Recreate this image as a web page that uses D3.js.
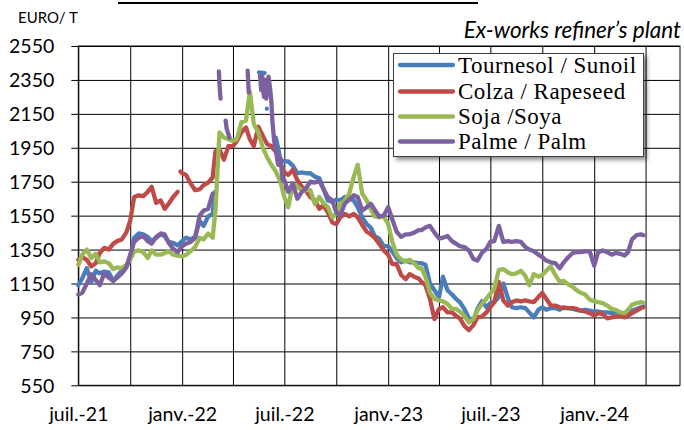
<!DOCTYPE html>
<html><head><meta charset="utf-8">
<script src="https://cdn.jsdelivr.net/npm/d3@7"></script>
<style>
html,body{margin:0;padding:0;background:#fff;}
svg{display:block;}
</style></head><body>
<svg id="c" width="684" height="430"></svg>
<script>
// ---------- DATA ----------
const dates = [
"2021-07-01","2021-07-08","2021-07-16","2021-07-24","2021-08-01","2021-08-08","2021-08-16","2021-08-24",
"2021-09-01","2021-09-08","2021-09-16","2021-09-24","2021-10-01","2021-10-08","2021-10-16","2021-10-24",
"2021-11-01","2021-11-08","2021-11-16","2021-11-24","2021-12-01","2021-12-08","2021-12-16","2021-12-24",
"2022-01-01","2022-01-08","2022-01-16","2022-01-24","2022-02-01","2022-02-08","2022-02-16","2022-02-24",
"2022-03-01","2022-03-08","2022-03-16","2022-03-24","2022-04-01","2022-04-08","2022-04-16","2022-04-24",
"2022-05-01","2022-05-08","2022-05-16","2022-05-24","2022-06-01","2022-06-08","2022-06-16","2022-06-24",
"2022-07-01","2022-07-08","2022-07-16","2022-07-24","2022-08-01","2022-08-08","2022-08-16","2022-08-24",
"2022-09-01","2022-09-08","2022-09-16","2022-09-24","2022-10-01","2022-10-08","2022-10-16","2022-10-24",
"2022-11-01","2022-11-08","2022-11-16","2022-11-24","2022-12-01","2022-12-08","2022-12-16","2022-12-24",
"2023-01-01","2023-01-08","2023-01-16","2023-01-24","2023-02-01","2023-02-08","2023-02-16","2023-02-24",
"2023-03-01","2023-03-08","2023-03-16","2023-03-24","2023-04-01","2023-04-08","2023-04-16","2023-04-24",
"2023-05-01","2023-05-08","2023-05-16","2023-05-24","2023-06-01","2023-06-08","2023-06-16","2023-06-24",
"2023-07-01","2023-07-08","2023-07-16","2023-07-24","2023-08-01","2023-08-08","2023-08-16","2023-08-24",
"2023-09-01","2023-09-08","2023-09-16","2023-09-24","2023-10-01","2023-10-08","2023-10-16","2023-10-24",
"2023-11-01","2023-11-08","2023-11-16","2023-11-24","2023-12-01","2023-12-08","2023-12-16","2023-12-24",
"2024-01-01","2024-01-08","2024-01-16","2024-01-24","2024-02-01","2024-02-08","2024-02-16","2024-02-24",
"2024-03-01","2024-03-08","2024-03-16","2024-03-24","2024-03-28"
];

const sunoil = [
1140,1180,1240,1160, 1225,1210,1220,1215, 1165,1195,1225,1245, 1300,1420,1445,1440,
1425,1400,1420,1440, 1430,1395,1390,1375, 1400,1420,1410,1425, 1520,1490,1545,1560,
null,null,null,null, null,null,null,null, null,null,null,2392, null,null,2010,1880,
1870,1870,1845,1800, 1805,1800,1800,1780, 1770,1710,1640,1630, 1645,1640,1660,1650,
1640,1600,1540,1500, 1480,1430,1415,1370, 1370,1340,1300,1275, 1285,1275,1275,1270,
1270,1260,1150,1110, 1070,1190,1110,1085, 1060,1040,1000,945, 930,1000,1045,1010,
1035,1040,1070,1150, 1065,1010,1005,1010, 1005,980,950,995, 1010,995,1005,1005,
995,1010,1005,1000, 995,990,995,990, 985,985,980,980, 975,980,975,970,
978,990,1000,1010,1015
];
const sunoilExtra = [["2022-02-28",1690],["2022-05-17",2395],["2022-05-27",2390],["2022-05-29",null],["2022-05-31",2180],["2022-06-20",1950]];

const rapeseed = [
1290,1305,1290,1250, 1270,1330,1360,1350, 1385,1400,1410,1450, 1520,1660,1670,1665,
1690,1720,1625,1640, 1590,1620,1660,1690, 1800,1790,1740,1700, 1705,1730,1745,1775,
1930,1940,1880,1960, 1960,1990,2040,2070, 2000,1960,2075,2020, 1970,1960,1925,1860,
1805,1790,1820,1760, 1720,1700,1660,1640, 1590,1610,1570,1510, 1500,1540,1560,1545,
1560,1540,1495,1455, 1440,1420,1385,1345, 1320,1265,1265,1200, 1175,1205,1190,1180,
1160,1140,1060,940, 1000,1010,980,980, 960,945,900,875, 905,950,955,980,
1010,1040,1160,1050, 1020,1040,1050,1045, 1050,1045,1040,1070, 1095,1060,1020,1020,
1010,1005,1005,1005, 1000,990,985,975, 960,975,970,945, 950,955,960,950,
960,975,990,1005,1010
];
const rapeseedExtra = [["2021-12-27",null],["2021-12-29",1810]];

const soya = [
1260,1320,1350,1300, 1325,1275,1280,1270, 1235,1245,1240,1260, 1290,1340,1345,1335,
1300,1345,1320,1320, 1330,1340,1320,1315, 1310,1320,1340,1365, 1420,1410,1445,1420,
1580,2040,2010,2000, 1990,2000,2100,2110, 2280,2090,2040,1950, 1890,1850,1810,1750,
1660,1600,1740,1720, 1700,1700,1700,1620, 1660,1625,1600,1540, 1560,1620,1640,1680,
1780,1850,1680,1640, 1590,1545,1540,1545, 1500,1400,1320,1290, 1280,1290,1270,1240,
1240,1190,1095,1060, 1050,1045,1030,1000, 1000,985,960,920, 940,990,1030,1060,
1090,1120,1230,1235, 1215,1205,1210,1225, 1195,1140,1205,1190, 1200,1225,1250,1200,
1160,1165,1145,1130, 1110,1095,1085,1055, 1045,1040,1035,1020, 1000,995,980,975,
995,1025,1035,1040,1038
];
const soyaExtra = [];

const palm = [
1085,1095,1150,1205, 1170,1140,1210,1185, 1165,1185,1210,1245, 1320,1395,1420,1430,
1400,1385,1425,1445, 1440,1390,1355,1335, 1370,1385,1395,1420, 1550,1580,1590,1680,
null,2330,null,2030, null,null,null,null, null,null,null,2300, 2310,2230,1930,1890,
1760,1690,1740,1650, 1690,1710,1750,1745, 1755,1710,1660,1640, 1570,1550,1620,1645,
1670,1660,1580,1600, 1620,1585,1545,1550, 1600,1530,1455,1425, 1440,1440,1450,1465,
1465,1480,1490,1450, 1415,1420,1430,1400, 1385,1370,1365,1345, 1295,1285,1330,1355,
1395,1400,1490,1395, 1400,1395,1400,1395, 1365,1350,1340,1320, 1305,1285,1275,1270,
1240,1275,1305,1330, 1335,1335,1340,1340, 1255,1335,1345,1335, 1320,1330,1325,1315,
1335,1410,1435,1440,1435
];
const palmExtra = [["2022-03-07",2400],["2022-03-10",2240],["2022-03-19",2110],["2022-03-21",2060],["2022-03-26",2010],
["2022-04-27",2405],["2022-04-29",2275],["2022-05-19",2380],["2022-05-21",2290],["2022-05-23",2370],["2022-05-26",2250],
["2022-05-28",2350],["2022-05-30",2240],["2022-06-03",2370],["2022-06-06",2290],["2022-06-10",2100],["2022-06-13",1990],
["2022-06-20",1850],["2022-06-28",1760]];

const seriesNames = ["Tournesol / Sunoil","Colza / Rapeseed","Soja /Soya","Palme / Palm"];
const seriesColors = ["#4A7EBB","#BE4B48","#98B954","#7D60A0"];

const yTicks = [550,750,950,1150,1350,1550,1750,1950,2150,2350,2550];
const xGridDates = ["2021-07-01","2021-10-01","2022-01-01","2022-04-01","2022-07-01","2022-10-01",
"2023-01-01","2023-04-01","2023-07-01","2023-10-01","2024-01-01","2024-04-01"];
const xLabelDates = ["2021-07-01","2022-01-01","2022-07-01","2023-01-01","2023-07-01","2024-01-01"];
const xLabels = ["juil.-21","janv.-22","juil.-22","janv.-23","juil.-23","janv.-24"];

// ---------- CHART ----------
const parse = d3.timeParse("%Y-%m-%d");
const svg = d3.select("#c");
const L = 78.3, R = 680, T = 46, B = 385.3;
const x = d3.scaleTime().domain([parse("2021-07-01"), parse("2024-06-01")]).range([L, R]);
const y = d3.scaleLinear().domain([550, 2550]).range([B, T]);

// title underline (title text cut off above the picture)
svg.append("line").attr("x1",118).attr("x2",478).attr("y1",3).attr("y2",3)
  .attr("stroke","#000").attr("stroke-width",2);

svg.append("text").attr("x",18).attr("y",23).text("EURO/ T")
  .attr("font-family","Lato, 'Open Sans', sans-serif").attr("font-size",15).attr("fill","#000");
svg.append("text").attr("x",681).attr("y",38).attr("text-anchor","end").text("Ex-works refiner\u2019s plant")
  .attr("font-family","Lato, 'Open Sans', sans-serif").attr("font-style","italic").attr("font-size",22.5).attr("fill","#000");

// y axis + horizontal grid
const yAxis = d3.axisLeft(y).tickValues(yTicks).tickFormat(d3.format("d")).tickSizeOuter(0);
const gy = svg.append("g").attr("transform",`translate(${L},0)`).call(yAxis);
gy.select(".domain").remove();
gy.selectAll(".tick line").attr("x1",-7).attr("x2",R-L).attr("stroke","#000").attr("stroke-width",1);
gy.selectAll(".tick text").attr("x",-24).attr("dy","0.35em")
  .attr("font-family","Lato, 'Open Sans', sans-serif").attr("font-size",19.5).attr("fill","#000");

// x axis + vertical grid
const labelMap = new Map(xLabelDates.map((d,i)=>[d, xLabels[i]]));
const xAxis = d3.axisBottom(x).tickValues(xGridDates.map(parse))
  .tickFormat(d => labelMap.get(d3.timeFormat("%Y-%m-%d")(d)) || "").tickSizeOuter(0);
const gx = svg.append("g").attr("transform",`translate(0,${B})`).call(xAxis);
gx.select(".domain").remove();
gx.selectAll(".tick line").attr("y1",0).attr("y2",-(B-T)).attr("stroke","#000").attr("stroke-width",1);
gx.selectAll(".tick text").attr("y",36).attr("dy",0)
  .attr("font-family","Lato, 'Open Sans', sans-serif").attr("font-size",19.5).attr("fill","#000");

// frame
svg.append("rect").attr("x",L).attr("y",T).attr("width",R-L).attr("height",B-T)
  .attr("fill","none").attr("stroke","#000").attr("stroke-width",1);

// series
function build(vals, extra){
  const pts = dates.map((d,i)=>({date:parse(d), v:vals[i]}));
  extra.forEach(e=>pts.push({date:parse(e[0]), v:e[1]}));
  pts.sort((a,b)=>a.date-b.date);
  return pts;
}
const all = [build(sunoil,sunoilExtra), build(rapeseed,rapeseedExtra), build(soya,soyaExtra), build(palm,palmExtra)];
const line = d3.line().defined(d=>d.v!==null).x(d=>x(d.date)).y(d=>y(d.v));
const gl = svg.append("g");
all.forEach((s,i)=>{
  gl.append("path").attr("d",line(s)).attr("fill","none").attr("stroke",seriesColors[i])
    .attr("stroke-width",4.3).attr("stroke-linejoin","round").attr("stroke-linecap","round");
});

// legend
const defs = svg.append("defs");
const f = defs.append("filter").attr("id","sh").attr("x","-10%").attr("y","-10%").attr("width","130%").attr("height","140%");
f.append("feDropShadow").attr("dx",3).attr("dy",3).attr("stdDeviation",2).attr("flood-color","#000").attr("flood-opacity",0.45);
const lg = svg.append("g");
lg.append("rect").attr("x",393.5).attr("y",53.5).attr("width",250).attr("height",103)
  .attr("fill","#fff").attr("stroke","#404040").attr("stroke-width",1).attr("filter","url(#sh)");
const rowY = [65, 91.5, 116.5, 141.5];
seriesNames.forEach((n,i)=>{
  lg.append("line").attr("x1",400).attr("x2",453).attr("y1",rowY[i]).attr("y2",rowY[i])
    .attr("stroke",seriesColors[i]).attr("stroke-width",4.3).attr("stroke-linecap","round");
  lg.append("text").attr("x",458).attr("y",rowY[i]+7.5).text(n)
    .attr("font-family","'Liberation Serif', 'Times New Roman', serif").attr("font-size",23)
    .attr("letter-spacing",0.5).attr("fill","#000");
});
</script>
</body></html>
